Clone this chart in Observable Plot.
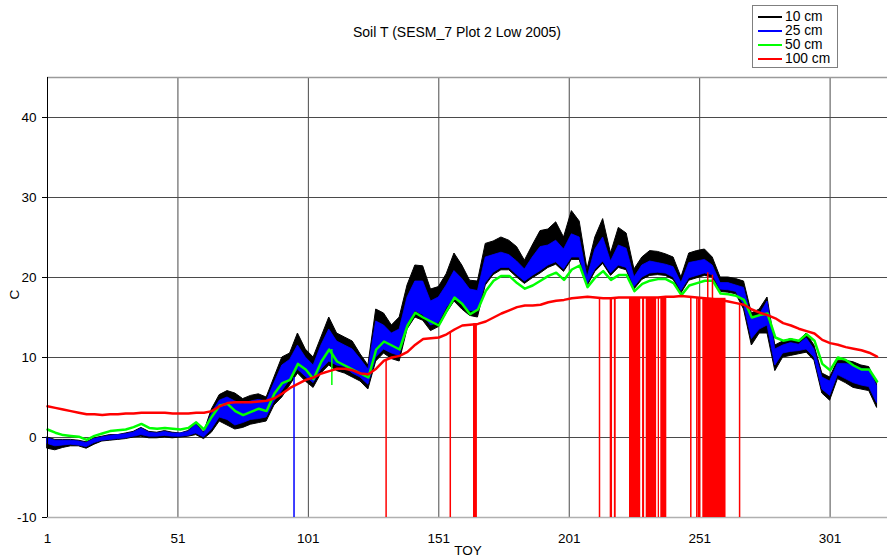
<!DOCTYPE html>
<html><head><meta charset="utf-8">
<script src="https://cdn.jsdelivr.net/npm/d3@7"></script>
<script src="https://cdn.jsdelivr.net/npm/@observablehq/plot@0.6"></script>
<style>
body{margin:0;background:#fff;}
#wrap{position:relative;width:888px;height:560px;font-family:"Liberation Sans",Arial,sans-serif;color:#000;overflow:hidden;}
#title{position:absolute;left:0;width:914px;top:24px;text-align:center;font-size:14px;line-height:16px;}
#legend{position:absolute;left:752px;top:5px;width:84px;height:61px;border:1px solid #7f7f7f;background:#fff;}
.lrow{position:absolute;left:0;width:84px;height:14px;}
.lline{position:absolute;left:5px;top:6px;width:24px;height:2px;}
.ltext{position:absolute;left:32px;top:0;font-size:13.8px;line-height:14px;height:14px;white-space:nowrap;}
#ylab{position:absolute;left:6px;top:287px;font-size:13.5px;transform:rotate(-90deg);transform-origin:center;width:16px;text-align:center;}
#xlab{position:absolute;left:438px;width:60px;text-align:center;top:544px;font-size:13.5px;line-height:14px;}
#chart{position:absolute;left:0;top:0;}
</style></head>
<body>
<div id="wrap">
  <div id="chart"></div>
  <div id="title"></div>
  <div id="legend"></div>
  <div id="ylab">C</div>
  <div id="xlab">TOY</div>
</div>
<script>
// ---- tick labels / categories ----
const titleText = "Soil T (SESM_7 Plot 2 Low 2005)";
const seriesNames = ["10 cm", "25 cm", "50 cm", "100 cm"];
const seriesColors = ["#000000", "#0000ff", "#00ff00", "#ff0000"];
const xTicks = [1, 51, 101, 151, 201, 251, 301];
const yTicks = [-10, 0, 10, 20, 30, 40];

// sample days (every 3rd day of year)
const days = [1,4,7,10,13,16,19,22,25,28,31,34,37,40,43,46,49,52,55,58,61,64,67,70,73,76,79,82,85,88,
  91,94,97,100,103,106,109,112,115,118,121,124,127,130,133,136,139,142,145,148,151,154,157,160,163,166,169,172,175,178,
  181,184,187,190,193,196,199,202,205,208,211,214,217,220,223,226,229,232,235,238,241,244,247,250,253,256,259,262,265,268,
  271,274,277,280,283,286,289,292,295,298,301,304,307,310,313,316,319];

// 10 cm (daily high / low envelope)
const t10Hi = [0.0,-0.3,-0.3,-0.3,-0.4,-0.6,-0.1,0.1,0.3,0.3,
  0.5,0.7,1.2,0.7,0.6,0.8,0.6,0.5,0.8,1.7,
  0.6,3.5,5.3,5.8,5.5,4.8,5.2,5.4,5.0,7.5,
  10.0,10.5,13.0,11.0,10.0,12.5,15.0,13.0,12.5,12.0,
  10.4,9.0,16.0,15.5,14.0,15.0,19.0,21.5,21.4,18.5,
  18.8,20.4,23.0,21.5,19.6,19.5,24.2,24.5,25.0,24.6,
  23.8,22.1,24.0,25.8,26.0,26.9,25.0,28.3,27.0,21.0,
  25.0,27.3,23.0,26.2,25.5,21.0,22.5,23.3,23.2,22.9,
  22.5,20.0,23.0,23.3,23.5,22.5,20.0,20.0,19.8,19.5,
  15.5,16.0,17.5,11.5,12.0,12.3,12.0,13.0,11.5,8.0,
  7.5,9.6,9.6,9.4,9.0,8.8,6.7];
const t10Lo = [-1.4,-1.6,-1.3,-1.1,-1.1,-1.4,-0.9,-0.5,-0.4,-0.3,
  -0.2,0.0,0.1,-0.1,-0.1,0.0,-0.1,0.0,0.1,0.3,
  -0.2,0.6,2.0,1.5,1.0,1.2,1.6,1.8,2.0,4.0,
  5.0,6.5,8.0,7.0,6.2,8.0,9.0,8.3,8.0,7.5,
  7.0,6.0,9.5,10.5,9.8,9.5,13.5,15.0,14.6,13.3,
  13.8,15.5,17.0,16.0,15.2,15.0,19.0,20.3,20.9,20.9,
  20.0,19.2,19.9,20.5,21.2,21.6,20.7,22.2,22.2,18.9,
  20.7,21.7,20.2,21.2,20.9,18.5,19.7,20.2,20.3,20.2,
  19.7,18.0,19.6,19.9,20.2,20.0,18.2,18.1,17.9,16.0,
  11.5,13.0,13.0,8.3,10.0,10.2,10.4,10.6,9.6,5.5,
  4.6,7.3,6.8,6.2,6.0,5.8,3.7];
// 25 cm
const t25Hi = [-0.1,-0.4,-0.4,-0.4,-0.5,-0.7,-0.2,0.0,0.2,0.3,
  0.4,0.6,1.1,0.6,0.5,0.7,0.5,0.5,0.7,1.6,
  0.5,3.0,4.6,5.0,4.5,4.2,4.5,4.7,4.5,6.8,
  9.0,9.7,11.5,10.0,9.0,11.5,13.5,12.0,11.5,11.0,
  9.8,8.5,14.5,14.0,13.0,13.5,17.5,19.5,19.5,17.0,
  17.5,19.0,20.8,19.8,18.5,18.3,22.5,22.8,23.1,22.8,
  22.0,21.0,22.5,23.8,24.0,24.6,23.5,25.4,25.0,20.0,
  23.5,25.0,22.0,24.0,23.6,20.0,21.5,22.0,21.8,21.6,
  21.3,19.3,21.8,22.0,22.2,21.5,19.3,19.3,19.0,18.7,
  14.8,15.3,17.0,11.0,11.5,11.8,11.6,12.4,11.0,7.5,
  7.0,9.2,9.2,9.0,8.6,8.4,6.4];
const t25Lo = [-0.8,-1.1,-1.0,-0.9,-1.0,-1.2,-0.7,-0.4,-0.3,-0.2,
  -0.1,0.1,0.3,0.1,0.1,0.2,0.1,0.1,0.2,0.5,
  0.0,1.0,2.5,2.2,1.5,1.8,2.2,2.3,2.5,4.5,
  5.8,7.2,8.5,7.6,6.8,8.5,9.5,9.0,8.8,8.0,
  7.5,6.6,10.0,11.0,10.5,10.2,14.2,15.8,15.3,14.0,
  14.3,16.2,17.5,16.6,15.8,15.8,19.3,20.6,21.2,21.2,
  20.3,19.5,20.2,20.8,21.5,21.9,21.0,22.5,22.5,19.2,
  21.0,22.0,20.5,21.5,21.2,18.8,20.0,20.5,20.6,20.5,
  20.0,18.3,19.9,20.2,20.5,20.3,18.5,18.4,18.2,16.6,
  12.3,13.5,14.0,9.0,10.5,10.7,10.8,11.0,10.0,6.0,
  5.2,7.8,7.3,6.8,6.5,6.3,4.3];
// 50 cm
const t50 = [1.0,0.6,0.3,0.2,0.1,-0.3,0.2,0.5,0.8,0.9,
  1.0,1.3,1.7,1.2,1.1,1.2,1.1,1.0,1.2,1.9,
  1.0,2.6,4.0,4.2,3.3,2.8,3.2,3.6,3.3,5.5,
  6.8,7.2,9.2,8.5,7.3,9.5,11.0,9.5,9.0,8.5,
  8.0,7.5,11.0,12.0,11.5,11.0,14.0,15.6,15.0,14.5,
  14.0,15.8,17.5,16.7,15.4,16.0,18.3,19.6,20.2,20.2,
  19.3,18.6,19.0,19.6,20.2,20.6,19.7,21.0,21.5,18.8,
  20.0,20.8,19.7,20.3,20.3,18.3,19.2,19.6,19.8,19.8,
  19.3,17.8,19.0,19.3,19.6,19.6,18.0,17.9,17.7,17.2,
  15.0,15.3,15.5,12.5,12.1,12.3,12.1,12.9,12.1,9.2,
  8.4,10.0,9.7,9.0,8.5,8.5,7.0];
// 100 cm
const t100 = [3.9,3.7,3.5,3.3,3.1,2.9,2.9,2.8,2.9,2.9,
  3.0,3.0,3.1,3.1,3.1,3.1,3.0,3.0,3.0,3.1,
  3.1,3.3,3.9,4.3,4.4,4.4,4.4,4.5,4.6,4.9,
  5.5,6.2,6.7,7.2,7.5,8.0,8.3,8.6,8.6,8.4,
  8.0,7.9,8.6,9.6,10.0,10.2,10.7,11.6,12.3,12.4,
  12.5,12.9,13.5,14.0,14.1,14.2,14.5,15.0,15.5,15.9,
  16.3,16.5,16.5,16.6,16.9,17.1,17.2,17.4,17.5,17.6,
  17.5,17.4,17.4,17.5,17.5,17.5,17.5,17.5,17.5,17.6,
  17.6,17.7,17.6,17.5,17.4,17.3,17.2,17.0,16.8,16.6,
  16.0,15.6,15.3,14.9,14.3,14.0,13.6,13.3,13.0,12.2,
  11.8,11.6,11.3,11.1,10.9,10.6,10.1];

// sensor dropouts / spikes
const redDropDays = [130.8, 155.4, 212.6, 247.6, 249.9, 250.5, 251.0, 266.3];
const redDropTops = [9.7, 13.2, 17.4, 17.6, 17.5, 17.5, 17.5, 16.7];
const redBlockStart = [164.3, 216.7, 218.3, 224.1, 229.1, 230.5, 235.1, 236.1, 252.2];
const redBlockEnd   = [165.8, 217.6, 219.0, 228.4, 229.9, 234.5, 235.6, 238.4, 261.1];
const redBlockTop   = [14.2, 17.4, 17.4, 17.5, 17.5, 17.5, 17.5, 17.6, 17.4];
const redSpikeDays = [254.1, 255.9];
const redSpikeTops = [20.6, 20.3];
const blueDropDays = [95.5];
const blueDropTops = [7.5];
const greenDropDays = [110.0];
const greenDropFrom = [11.0];
const greenDropTo = [6.5];

// ---- build tables ----
const rows = days.map((d, i) => ({day: d, kHi: t10Hi[i], kLo: t10Lo[i], bHi: t25Hi[i], bLo: t25Lo[i], g: t50[i], r: t100[i]}));
const redDrops = redDropDays.map((d, i) => ({day: d, top: redDropTops[i]}));
const redBlocks = redBlockStart.map((s, i) => ({s, e: redBlockEnd[i], top: redBlockTop[i]}));
const redSpikes = redSpikeDays.map((d, i) => ({day: d, top: redSpikeTops[i]}));
const blueDrops = blueDropDays.map((d, i) => ({day: d, top: blueDropTops[i]}));
const greenDrops = greenDropDays.map((d, i) => ({day: d, from: greenDropFrom[i], to: greenDropTo[i]}));

const chart = Plot.plot({
  width: 888, height: 560,
  marginTop: 77, marginBottom: 43, marginLeft: 47, marginRight: 1,
  style: {fontFamily: "'Liberation Sans', Arial, sans-serif", fontSize: "13.5px", color: "#000", background: "#fff", overflow: "visible"},
  x: {domain: [1, 323], ticks: xTicks, tickSize: 0, tickPadding: 16, tickFormat: d => String(d), label: null},
  y: {domain: [-10, 45], ticks: yTicks, tickSize: 5, tickPadding: 6, tickFormat: d => String(d), label: null},
  marks: [
    Plot.ruleX(xTicks.slice(1), {stroke: "#4a4a4a", strokeWidth: 1}),
    Plot.ruleY(yTicks.slice(1), {stroke: "#4a4a4a", strokeWidth: 1}),
    Plot.ruleY([45], {stroke: "#9a9a9a", strokeWidth: 1.5}),
    Plot.ruleY([-10], {stroke: "#b0b0b0", strokeWidth: 1.5}),
    // 10 cm
    Plot.areaY(rows, {x: "day", y1: "kLo", y2: "kHi", fill: seriesColors[0], stroke: seriesColors[0], strokeWidth: 1}),
    // 25 cm
    Plot.ruleX(blueDrops, {x: "day", y1: -10, y2: "top", stroke: seriesColors[1], strokeWidth: 1.5}),
    Plot.areaY(rows, {x: "day", y1: "bLo", y2: "bHi", fill: seriesColors[1], stroke: seriesColors[1], strokeWidth: 0.8}),
    // 50 cm
    Plot.ruleX(greenDrops, {x: "day", y1: "to", y2: "from", stroke: seriesColors[2], strokeWidth: 1.5}),
    Plot.line(rows, {x: "day", y: "g", stroke: seriesColors[2], strokeWidth: 2.5}),
    // 100 cm
    Plot.rect(redBlocks, {x1: "s", x2: "e", y1: -10, y2: "top", fill: seriesColors[3]}),
    Plot.ruleX(redDrops, {x: "day", y1: -10, y2: "top", stroke: seriesColors[3], strokeWidth: 1.5}),
    Plot.ruleX(redSpikes, {x: "day", y1: 17.3, y2: "top", stroke: seriesColors[3], strokeWidth: 1.5}),
    Plot.line(rows, {x: "day", y: "r", stroke: seriesColors[3], strokeWidth: 2.5}),
    Plot.ruleX([1], {stroke: "#000", strokeWidth: 1})
  ]
});
document.getElementById("chart").append(chart);
document.getElementById("title").textContent = titleText;

const leg = document.getElementById("legend");
seriesNames.forEach((name, i) => {
  const row = document.createElement("div");
  row.className = "lrow";
  row.style.top = (3.7 + i * 14.1) + "px";
  const ln = document.createElement("div");
  ln.className = "lline";
  ln.style.background = seriesColors[i];
  const tx = document.createElement("div");
  tx.className = "ltext";
  tx.textContent = name;
  row.append(ln, tx);
  leg.append(row);
});
</script>
</body></html>
